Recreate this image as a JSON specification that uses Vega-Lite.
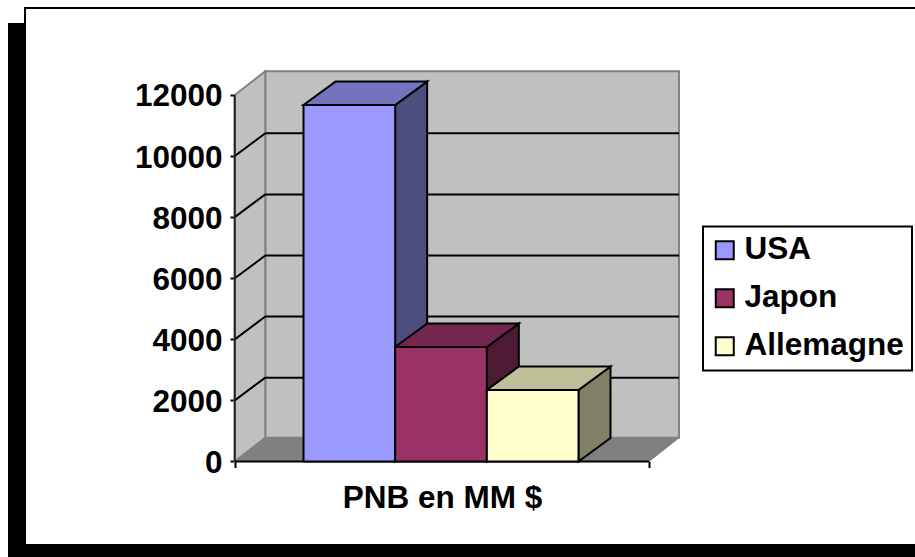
{"$schema":"https://vega.github.io/schema/vega-lite/v6.json","width":915,"height":557,"padding":0,"autosize":{"type":"none"},"background":"white","view":{"stroke":null},
"datasets":{
"pays":[{"pays":"USA","rang":0,"valeur":11670},{"pays":"Japon","rang":1,"valeur":3750},{"pays":"Allemagne","rang":2,"valeur":2340}],
"graduations":[{"v":2000},{"v":4000},{"v":6000},{"v":8000},{"v":10000}],
"cadre":[{"x1":-3.2236,"x2":-3.027,"y1":-3127,"y2":14357},{"x1":-3.2236,"x2":6.671,"y1":-3127,"y2":-2701},{"x1":-3.049,"x2":6.671,"y1":14815,"y2":14881},{"x1":-3.049,"x2":-3.027,"y1":14357,"y2":14848}],
"mur":[{"x1":-0.417,"x2":4.096,"y1":775,"y2":12775}],
"paroi":[{"x":-0.75,"bas":0,"haut":12000},{"x":-0.417,"bas":775,"haut":12775}],
"sol":[{"y":0,"x1":-0.75,"x2":3.77},{"y":775,"x1":-0.417,"x2":4.096}]
},
"layer":[
{"data":{"name":"cadre"},"mark":{"type":"rect","fill":"black"},"encoding":{
"x":{"field":"x1","type":"quantitative","scale":{"domain":[-3.311,6.671],"nice":false,"zero":false},"axis":{"orient":"bottom","offset":-95.5,"values":[-0.75,3.77],"labels":false,"grid":false,"domain":false,"ticks":true,"tickSize":6,"tickWidth":2,"tickColor":"black","title":"PNB en MM $","titleFont":"Liberation Sans","titleFontWeight":"bold","titleFontSize":31.5,"titleColor":"black","titleX":442,"titleY":46,"titleBaseline":"alphabetic","titleAlign":"center"}},
"x2":{"field":"x2"},
"y":{"field":"y1","type":"quantitative","scale":{"domain":[-3127,15110],"nice":false,"zero":false},"axis":{"orient":"left","offset":-235,"values":[0,2000,4000,6000,8000,10000,12000],"format":"d","grid":false,"domain":false,"tickSize":5,"tickWidth":2,"tickColor":"black","labelFont":"Liberation Sans","labelFontWeight":"bold","labelFontSize":31.5,"labelColor":"black","labelPadding":8,"labelOffset":2,"title":null}},
"y2":{"field":"y2"}}},
{"data":{"name":"mur"},"mark":{"type":"rect","fill":"#C0C0C0","stroke":"#808080","strokeWidth":2},"encoding":{
"x":{"field":"x1","type":"quantitative","scale":{"domain":[-3.311,6.671],"nice":false,"zero":false}},"x2":{"field":"x2"},
"y":{"field":"y1","type":"quantitative","scale":{"domain":[-3127,15110],"nice":false,"zero":false}},"y2":{"field":"y2"}}},
{"data":{"name":"paroi"},"mark":{"type":"area","fill":"#C0C0C0","stroke":"#808080","strokeWidth":2},"encoding":{
"x":{"field":"x","type":"quantitative","scale":{"domain":[-3.311,6.671],"nice":false,"zero":false}},
"y":{"field":"haut","type":"quantitative","scale":{"domain":[-3127,15110],"nice":false,"zero":false}},"y2":{"field":"bas"}}},
{"data":{"name":"sol"},"mark":{"type":"area","orient":"horizontal","fill":"#808080","stroke":"#808080","strokeWidth":1},"encoding":{
"y":{"field":"y","type":"quantitative","scale":{"domain":[-3127,15110],"nice":false,"zero":false}},
"x":{"field":"x1","type":"quantitative","scale":{"domain":[-3.311,6.671],"nice":false,"zero":false}},"x2":{"field":"x2"}}},
{"data":{"name":"graduations"},"transform":[{"calculate":"datum.v+745","as":"vb"}],"mark":{"type":"rule","color":"black","strokeWidth":2},"encoding":{
"x":{"datum":-0.417,"type":"quantitative","scale":{"domain":[-3.311,6.671],"nice":false,"zero":false}},"x2":{"datum":4.096},
"y":{"field":"vb","type":"quantitative","scale":{"domain":[-3127,15110],"nice":false,"zero":false}}}},
{"data":{"name":"graduations"},"transform":[{"calculate":"datum.v+745","as":"vb"}],"mark":{"type":"rule","color":"black","strokeWidth":2},"encoding":{
"x":{"datum":-0.75,"type":"quantitative","scale":{"domain":[-3.311,6.671],"nice":false,"zero":false}},"x2":{"datum":-0.417},
"y":{"field":"v","type":"quantitative","scale":{"domain":[-3127,15110],"nice":false,"zero":false}},"y2":{"field":"vb"}}},
{"data":{"name":"sol"},"mark":{"type":"rule","color":"black","strokeWidth":2},"transform":[{"filter":"datum.y===0"}],"encoding":{
"x":{"field":"x1","type":"quantitative","scale":{"domain":[-3.311,6.671],"nice":false,"zero":false}},"x2":{"field":"x2"},
"y":{"field":"y","type":"quantitative","scale":{"domain":[-3127,15110],"nice":false,"zero":false}}}},
{"data":{"name":"paroi"},"mark":{"type":"rule","color":"#222222","strokeWidth":2},"transform":[{"filter":"datum.bas===0"}],"encoding":{
"x":{"field":"x","type":"quantitative","scale":{"domain":[-3.311,6.671],"nice":false,"zero":false}},
"y":{"field":"haut","type":"quantitative","scale":{"domain":[-3127,15110],"nice":false,"zero":false}},"y2":{"field":"bas"}}},
{"data":{"name":"pays"},"transform":[{"calculate":"datum.rang+1","as":"avant"},{"calculate":"datum.rang+1.349","as":"arriere"},{"fold":["avant","arriere"],"as":["cote","xs"]},{"calculate":"datum.cote==='arriere'?769:0","as":"bas"},{"calculate":"datum.valeur+datum.bas","as":"haut"}],
"mark":{"type":"area","stroke":"black","strokeWidth":2},"encoding":{
"x":{"field":"xs","type":"quantitative","scale":{"domain":[-3.311,6.671],"nice":false,"zero":false}},
"y":{"field":"haut","type":"quantitative","scale":{"domain":[-3127,15110],"nice":false,"zero":false}},"y2":{"field":"bas"},
"fill":{"field":"pays","type":"nominal","legend":null,"scale":{"domain":["USA","Japon","Allemagne"],"range":["#4D4D80","#4D1A33","#808066"]}}}},
{"data":{"name":"pays"},"transform":[{"calculate":"datum.valeur","as":"devant"},{"calculate":"datum.valeur+769","as":"fond"},{"fold":["devant","fond"],"as":["bord","yt"]},{"calculate":"datum.rang+(datum.bord==='fond'?0.349:0)","as":"xa"},{"calculate":"datum.xa+1","as":"xb"}],
"mark":{"type":"area","orient":"horizontal","stroke":"black","strokeWidth":2},"encoding":{
"y":{"field":"yt","type":"quantitative","scale":{"domain":[-3127,15110],"nice":false,"zero":false}},
"x":{"field":"xa","type":"quantitative","scale":{"domain":[-3.311,6.671],"nice":false,"zero":false}},"x2":{"field":"xb"},
"fill":{"field":"pays","type":"nominal","legend":null,"scale":{"domain":["USA","Japon","Allemagne"],"range":["#7373BF","#732650","#BFBF99"]}}}},
{"data":{"name":"pays"},"transform":[{"calculate":"datum.rang+1","as":"fin"}],"mark":{"type":"rect","stroke":"black","strokeWidth":2},"encoding":{
"x":{"field":"rang","type":"quantitative","scale":{"domain":[-3.311,6.671],"nice":false,"zero":false}},"x2":{"field":"fin"},
"y":{"field":"valeur","type":"quantitative","scale":{"domain":[-3127,15110],"nice":false,"zero":false}},"y2":{"datum":0},
"fill":{"field":"pays","type":"nominal","scale":{"domain":["USA","Japon","Allemagne"],"range":["#9999FF","#993366","#FFFFCC"]},
"legend":{"orient":"none","legendX":703,"legendY":226.5,"title":null,"symbolType":"square","symbolSize":324,"symbolStrokeColor":"black","symbolStrokeWidth":2,"symbolOffset":-2,"labelOffset":4,"labelFont":"Liberation Sans","labelFontWeight":"bold","labelFontSize":31.5,"labelColor":"black","labelLimit":300,"rowPadding":15,"padding":8,"fillColor":"white","strokeColor":"black"}}}}
],
"resolve":{"scale":{"fill":"independent"}},
"config":{"legend":{"strokeWidth":2}}}
